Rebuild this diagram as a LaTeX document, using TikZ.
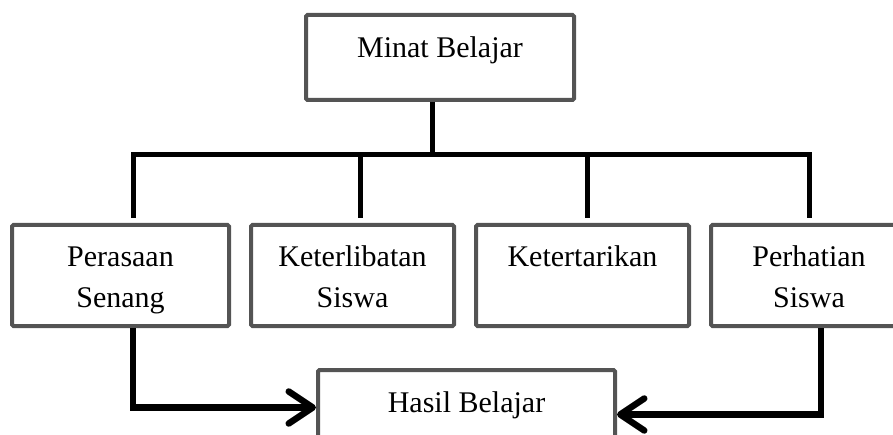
\documentclass[tikz,border=0pt]{standalone}
\usepackage{fontspec}
\setmainfont{Liberation Serif}
\usetikzlibrary{arrows.meta, positioning}

\newcommand{\lnstrut}{\rule[-8pt]{0pt}{40pt}}

\begin{document}
\begin{tikzpicture}[
                x = 1pt, y = -1pt,
                every node/.style={font=\fontsize{30}{41}\selectfont},
                main/.style={rectangle, draw=black!67, line width=4pt, rounded corners=1.5pt, fill=white, minimum height=85pt, text height=12pt, text depth=12pt},
                factor/.style={rectangle, draw=black!67, line width=4pt, rounded corners=1.5pt, minimum height=101pt, align=center},
                link/.style={line width=5pt},
                flow/.style={line width=6.5pt, -{Straight Barb[length=24pt, width=32pt, round]}}
            ]
            \useasboundingbox (0,0) rectangle (893,435);

            \node[main, minimum width=268pt] (minat) at (440,57.5) {Minat Belajar};

            \node[factor, minimum width=217pt] (perasaan) at (120.5,275.5) {\lnstrut Perasaan\\\lnstrut Senang};
            \node[factor, minimum width=203pt, right=18pt of perasaan] (keterlibatan) {\lnstrut Keterlibatan\\\lnstrut Siswa};
            \node[factor, minimum width=213pt, right=18pt of keterlibatan] (ketertarikan) {\lnstrut Ketertarikan\\\lnstrut};
            \node[factor, minimum width=196pt, right=18pt of ketertarikan] (perhatian) {\lnstrut Perhatian\\\lnstrut Siswa};

            \node[main, minimum width=297pt] (hasil) at (466.5,412.5) {Hasil Belajar};

            \coordinate (b1) at (133,155);
            \coordinate (b2) at (360,155);
            \coordinate (b3) at (587,155);
            \coordinate (b4) at (809,155);

            \draw[link] ([xshift=-8pt]minat.south) -- ([xshift=-8pt]minat.south |- b1);
            \draw[link, line cap=rect] (b1) -- (b4);
            \foreach \c/\n in {b1/perasaan, b2/keterlibatan, b3/ketertarikan, b4/perhatian}
                \draw[link, shorten >=5pt] (\c) -- (\c |- \n.north);

            \draw[flow] ([xshift=12.5pt]perasaan.south) |- ([yshift=5pt]hasil.west);
            \draw[flow] ([xshift=12pt]perhatian.south) |- ([yshift=-2pt]hasil.east);
        \end{tikzpicture}
\end{document}
